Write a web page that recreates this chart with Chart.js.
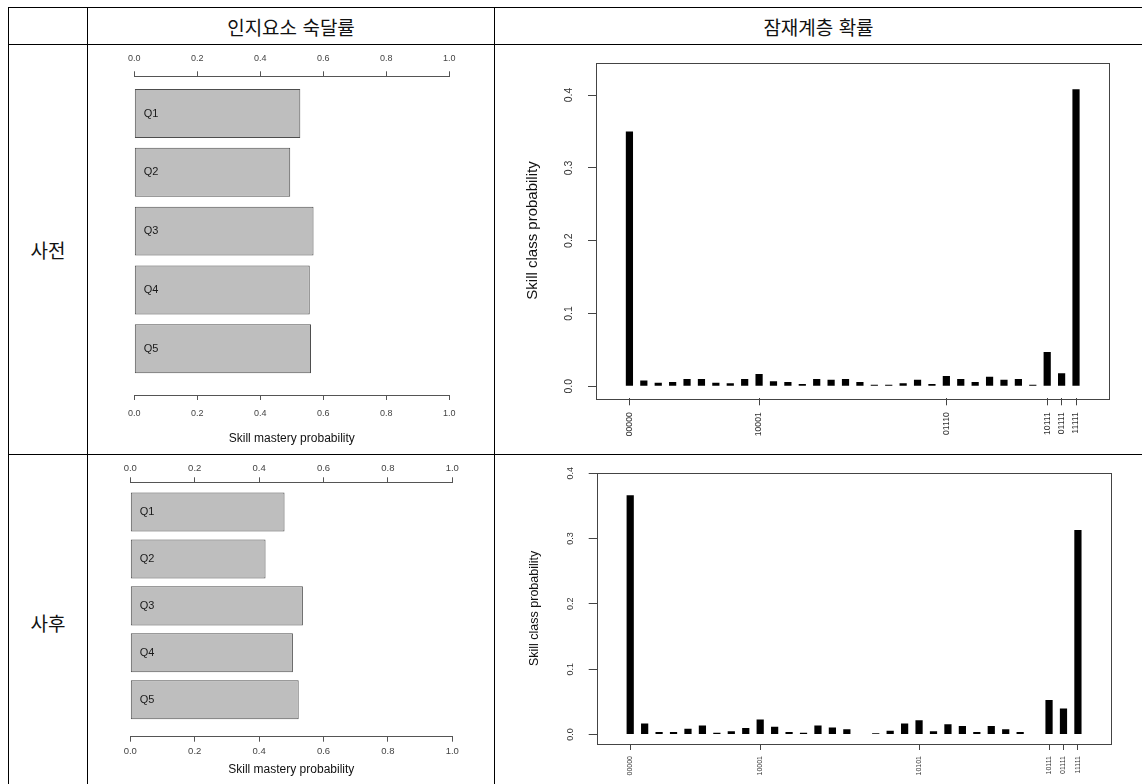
<!DOCTYPE html>
<html lang="ko">
<head>
<meta charset="utf-8">
<title>인지요소 숙달률 / 잠재계층 확률</title>
<script src="https://cdn.jsdelivr.net/npm/chart.js@4.4.1/dist/chart.umd.min.js"></script>
<style>
  html, body { margin: 0; padding: 0; background: #fff; }
  #pagina { position: relative; width: 1142px; height: 784px; overflow: hidden; background: #fff; }
  .linha { position: absolute; background: #000; }
  .cel { position: absolute; display: flex; align-items: center; justify-content: center;
         font-family: 'Noto Sans CJK KR', sans-serif; font-size: 19px; color: #111; }
  canvas { position: absolute; }
</style>
</head>
<body>
<div id="pagina">
  <!-- linhas da tabela -->
  <div class="linha" style="left:8px;top:7px;width:1134px;height:1px"></div>
  <div class="linha" style="left:8px;top:44px;width:1134px;height:1px"></div>
  <div class="linha" style="left:8px;top:454px;width:1134px;height:1px"></div>
  <div class="linha" style="left:8px;top:7px;width:1px;height:777px"></div>
  <div class="linha" style="left:87px;top:7px;width:1px;height:777px"></div>
  <div class="linha" style="left:494px;top:7px;width:1px;height:777px"></div>

  <div class="cel" style="left:88px;top:8px;width:406px;height:36px">인지요소 숙달률</div>
  <div class="cel" style="left:495px;top:8px;width:647px;height:36px">잠재계층 확률</div>
  <div class="cel" style="left:9px;top:45px;width:78px;height:409px">사전</div>
  <div class="cel" style="left:9px;top:455px;width:78px;height:335px">사후</div>

  <canvas id="dominioPre" width="406" height="409" style="left:88px;top:45px"></canvas>
  <canvas id="dominioPos" width="406" height="329" style="left:88px;top:455px"></canvas>
  <canvas id="classePre" width="647" height="409" style="left:495px;top:45px"></canvas>
  <canvas id="classePos" width="647" height="329" style="left:495px;top:455px"></canvas>
</div>

<script>
// Dados //
const skills = ['Q1', 'Q2', 'Q3', 'Q4', 'Q5'];
const masteryPre = [0.527, 0.495, 0.569, 0.557, 0.561];
const masteryPost = [0.479, 0.420, 0.536, 0.505, 0.523];
const masteryTicks = [0, 0.2, 0.4, 0.6, 0.8, 1.0];

const classes = ['00000', '10000', '01000', '00100', '00010', '00001', '11000', '10100',
  '10010', '10001', '01100', '01010', '01001', '00110', '00101', '00011',
  '11100', '11010', '11001', '10110', '10101', '10011', '01110', '01101',
  '01011', '00111', '11110', '11101', '11011', '10111', '01111', '11111'];
const classPre = [0.350, 0.008, 0.005, 0.006, 0.010, 0.010, 0.005, 0.004,
  0.010, 0.017, 0.007, 0.006, 0.003, 0.010, 0.009, 0.010,
  0.006, 0.002, 0.002, 0.004, 0.009, 0.003, 0.014, 0.010,
  0.006, 0.013, 0.009, 0.010, 0.002, 0.047, 0.018, 0.408];
const classPost = [0.366, 0.017, 0.004, 0.004, 0.009, 0.014, 0.003, 0.005,
  0.010, 0.023, 0.012, 0.004, 0.003, 0.014, 0.011, 0.008,
  0.001, 0.002, 0.006, 0.017, 0.022, 0.005, 0.016, 0.013,
  0.004, 0.013, 0.008, 0.004, 0.001, 0.053, 0.040, 0.313];
const classTicks = [0, 0.1, 0.2, 0.3, 0.4];
const shownPre = ['00000', '10001', '01110', '10111', '01111', '11111'];
const shownPost = ['00000', '10001', '10101', '10111', '01111', '11111'];

Chart.defaults.font.family = '"Liberation Sans", Arial, sans-serif';
Chart.defaults.color = '#333';

// Plugins //
const rotulosQ = {
  id: 'rotulosQ',
  afterDatasetsDraw(chart) {
    const c = chart.ctx;
    c.save();
    c.font = '11px "Liberation Sans", Arial, sans-serif';
    c.fillStyle = '#1a1a1a';
    c.textBaseline = 'middle';
    chart.getDatasetMeta(0).data.forEach((bar, i) => c.fillText(skills[i], bar.base + 9, bar.y));
    c.restore();
  }
};

const caixa = {
  id: 'caixa',
  afterDraw(chart) {
    const a = chart.chartArea;
    const c = chart.ctx;
    c.save();
    c.strokeStyle = '#444';
    c.lineWidth = 1;
    c.strokeRect(Math.round(a.left) + 0.5, Math.round(a.top) + 0.5,
      Math.round(a.right - a.left), Math.round(a.bottom - a.top));
    c.restore();
  }
};

// Eixo horizontal 0..1 (usado em cima e embaixo)
function eixoDominio(pos, g) {
  const emCima = pos === 'top';
  return {
    type: 'linear', position: pos, min: 0, max: 1, offset: false,
    afterBuildTicks: s => { s.ticks = masteryTicks.map(v => ({ value: v })); },
    afterFit: s => { s.height = emCima ? g.topH : g.bottomH; },
    grid: { display: true, offset: false, drawOnChartArea: false, drawTicks: true, tickLength: 5, color: '#555' },
    border: { display: true, color: '#555' },
    ticks: { font: { size: g.tickFont }, color: '#444', padding: emCima ? g.topPad : g.bottomPad,
             maxRotation: 0, autoSkip: false, callback: v => v.toFixed(1) },
    title: { display: !emCima, text: 'Skill mastery probability', color: '#111',
             font: { size: 12 }, padding: { top: 0, bottom: g.titlePad } }
  };
}

function graficoDominio(id, valores, g) {
  return new Chart(document.getElementById(id), {
    type: 'bar',
    data: {
      datasets: [{
        data: valores.map((v, i) => ({ x: v, y: i })),
        backgroundColor: '#bebebe',
        borderColor: '#4d4d4d',
        borderWidth: 1,
        borderSkipped: false,
        barPercentage: 0.833,
        categoryPercentage: 1
      }]
    },
    options: {
      indexAxis: 'y',
      responsive: false,
      animation: false,
      layout: { padding: { left: g.left, right: g.right, top: 0, bottom: 0 } },
      plugins: { legend: { display: false }, tooltip: { enabled: false } },
      scales: {
        y: {
          type: 'linear', display: false, reverse: true, offset: false, grid: { offset: false },
          min: -0.633, max: 4.787,
          afterBuildTicks: s => { s.ticks = skills.map((_, i) => ({ value: i })); }
        },
        x: eixoDominio('bottom', g),
        x2: eixoDominio('top', g)
      }
    },
    plugins: [rotulosQ]
  });
}

function graficoClasse(id, valores, mostrados, g) {
  return new Chart(document.getElementById(id), {
    type: 'bar',
    data: {
      datasets: [{
        data: valores.map((v, i) => ({ x: i, y: v })),
        backgroundColor: '#000',
        borderWidth: 0,
        barPercentage: 0.5,
        categoryPercentage: 1
      }]
    },
    options: {
      responsive: false,
      animation: false,
      layout: { padding: { left: 0, right: g.right, top: g.top, bottom: 0 } },
      plugins: { legend: { display: false }, tooltip: { enabled: false } },
      scales: {
        x: {
          type: 'linear', min: -2.32, max: 33.29, offset: false,
          afterBuildTicks: s => { s.ticks = mostrados.map(n => ({ value: classes.indexOf(n) })); },
          afterFit: s => { s.height = g.xH; },
          grid: { display: true, offset: false, drawOnChartArea: false, drawTicks: true, tickLength: g.xTl, color: '#444' },
          border: { display: false },
          ticks: { font: { size: g.xFont }, color: '#333', padding: g.xPad, autoSkip: false,
                   minRotation: 90, maxRotation: 90, callback: v => classes[v] }
        },
        y: {
          type: 'linear', min: g.ymin, max: g.ymax,
          afterBuildTicks: s => { s.ticks = classTicks.map(v => ({ value: v })); },
          afterFit: s => { s.width = g.yW; },
          grid: { display: true, drawOnChartArea: false, drawTicks: true, tickLength: g.yTl, color: '#444' },
          border: { display: false },
          ticks: { font: { size: g.yFont }, color: '#333', padding: g.yPad, crossAlign: 'center',
                   minRotation: 90, maxRotation: 90, callback: v => v.toFixed(1) },
          title: { display: true, text: 'Skill class probability', color: '#111',
                   font: { size: g.titleFont }, padding: { top: g.titlePad, bottom: 0 } }
        }
      }
    },
    plugins: [caixa]
  });
}

// Monta os quatro graficos
graficoDominio('dominioPre', masteryPre,
  { left: 46.3, right: 44.7, topH: 31.3, bottomH: 59, topPad: 7.6, bottomPad: 8.6, titlePad: 7.8, tickFont: 9 });
graficoDominio('dominioPos', masteryPost,
  { left: 42.3, right: 41.7, topH: 27.3, bottomH: 47.3, topPad: 3.6, bottomPad: 4.2, titlePad: 6.8, tickFont: 9.5 });
graficoClasse('classePre', classPre, shownPre,
  { right: 33, top: 17.3, yW: 101, xH: 55.7, ymin: -0.0165, ymax: 0.4444,
    yFont: 10.5, yPad: 11.4, yTl: 8, xFont: 8.6, xPad: 7, xTl: 7, titleFont: 15, titlePad: 29 });
graficoClasse('classePos', classPost, shownPost,
  { right: 31, top: 15, yW: 101.7, xH: 40, ymin: -0.0144, ymax: 0.4005,
    yFont: 9, yPad: 12.4, yTl: 8, xFont: 7, xPad: 6, xTl: 6, titleFont: 12.5, titlePad: 32.5 });
</script>
</body>
</html>
